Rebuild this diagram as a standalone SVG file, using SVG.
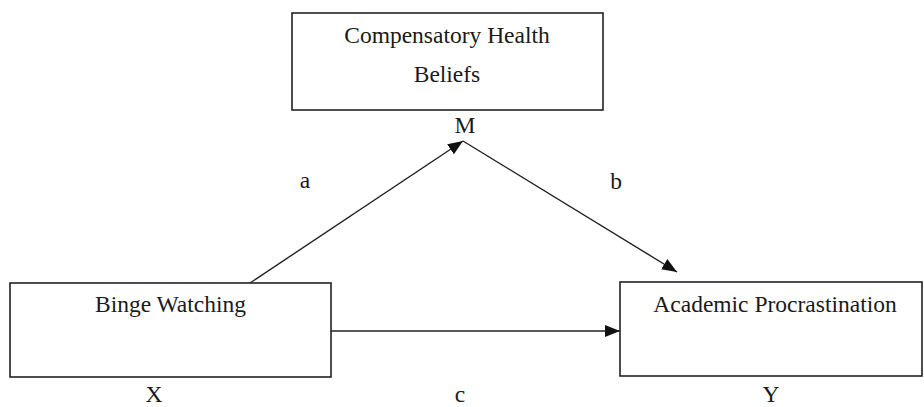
<svg xmlns="http://www.w3.org/2000/svg" width="924" height="407" viewBox="0 0 924 407">
<style>
.box{fill:#fff;stroke:#222;stroke-width:1.6}
.t{font-family:"Liberation Serif","Times New Roman",serif;font-size:23.5px;fill:#1a1a1a;text-anchor:middle}
.c{stroke:#222;stroke-width:1.4;fill:none}
</style>
<defs>
<marker id="ah" markerUnits="userSpaceOnUse" markerWidth="16" markerHeight="12" refX="15" refY="6" orient="auto">
<path d="M0,0 L15,6 L0,12 Z" fill="#111"/>
</marker>
</defs>
<rect width="924" height="407" fill="#fff"/>
<g id="connectors">
<line class="c" x1="250" y1="283" x2="463" y2="141" marker-end="url(#ah)"/>
<line class="c" x1="463" y1="141" x2="677" y2="272" marker-end="url(#ah)"/>
<line class="c" x1="331" y1="331" x2="620" y2="331" marker-end="url(#ah)"/>
</g>
<g id="node-m">
<rect class="box" x="292" y="13" width="311" height="97"/>
<text class="t" x="447" y="43">Compensatory Health</text>
<text class="t" x="447" y="82">Beliefs</text>
<text class="t" x="465" y="133">M</text>
</g>
<g id="node-x">
<rect class="box" x="10" y="283" width="321" height="94"/>
<text class="t" x="170.5" y="312">Binge Watching</text>
<text class="t" x="154" y="402">X</text>
</g>
<g id="node-y">
<rect class="box" x="620" y="282" width="302" height="94"/>
<text class="t" x="775" y="312">Academic Procrastination</text>
<text class="t" x="771" y="402">Y</text>
</g>
<g id="labels">
<text class="t" x="305" y="188">a</text>
<text class="t" x="616" y="189">b</text>
<text class="t" x="460" y="402">c</text>
</g>
</svg>
